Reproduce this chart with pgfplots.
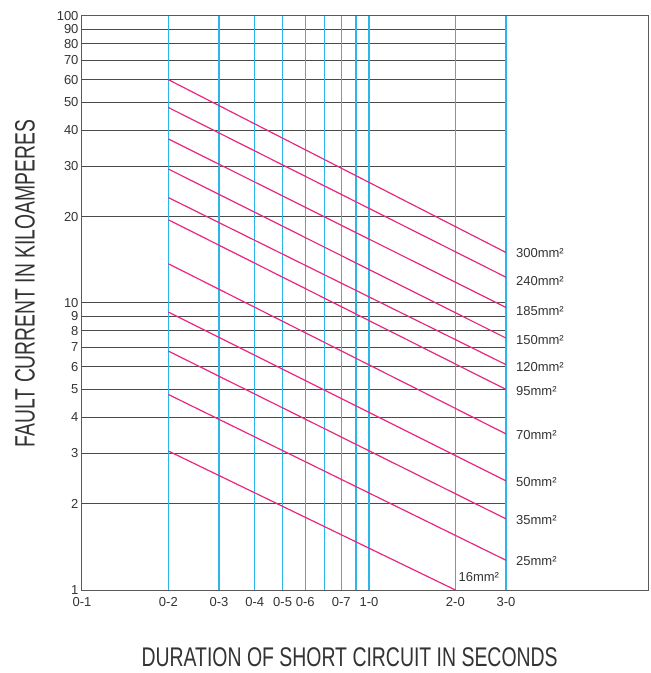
\documentclass[border=0pt]{standalone}
\usepackage{fontspec}
\setmainfont{Liberation Sans}
\newfontfamily\condfont[FakeStretch=0.69]{Liberation Sans}
\newfontfamily\condfontx[FakeStretch=0.72]{Liberation Sans}
\usepackage{pgfplots}
\pgfplotsset{compat=1.18}
\definecolor{gridgray}{HTML}{4A4A4A}
\definecolor{boxgray}{HTML}{5A5A5A}
\definecolor{cblue}{HTML}{2AB6E8}
\definecolor{cpink}{HTML}{E8287F}
\definecolor{txtgray}{HTML}{333333}
\begin{document}
\begin{tikzpicture}[x=1pt,y=1pt]
\useasboundingbox (0,0) rectangle (651,673);
\begin{axis}[
  at={(82pt,83pt)}, anchor=south west,
  scale only axis, width=566.3pt, height=574pt,
  xmode=log, ymode=log,
  xmin=0.1, xmax=9.4, ymin=1, ymax=100,
  axis line style={boxgray, line width=1pt},
  xtick={0.1,0.2,0.3,0.4,0.5,0.6,0.8,1,2,3},
  xticklabels={0-1,0-2,0-3,0-4,0-5,0-6,0-7,1-0,2-0,3-0},
  ytick={1,2,3,4,5,6,7,8,9,10,20,30,40,50,60,70,80,90,100},
  yticklabels={1,2,3,4,5,6,7,8,9,10,20,30,40,50,60,70,80,90,100},
  minor xtick={}, minor ytick={},
  tick style={draw=none},
  ticklabel style={font=\fontsize{13}{13}\selectfont, text=txtgray},
  xticklabel style={yshift=-4pt},
  xlabel={DURATION OF SHORT CIRCUIT IN SECONDS},
  ylabel={FAULT CURRENT IN KILOAMPERES},
  xlabel style={font=\condfontx\fontsize{27}{27}\selectfont, text=txtgray, inner sep=0pt,
    at={(axis description cs:0.4726,-0.117)}, anchor=center},
  ylabel style={font=\condfont\fontsize{28}{28}\selectfont, text=txtgray, inner sep=0pt,
    at={(axis description cs:-0.1007,0.534)}, anchor=center},
  clip=false,
]
% horizontal grid (stops at 3 s)
\pgfplotsinvokeforeach{2,3,4,5,6,7,8,9,10,20,30,40,50,60,70,80,90}{
  \addplot[gridgray, line width=1pt] coordinates {(0.1,#1) (3,#1)};
}
% vertical blue lines
\pgfplotsinvokeforeach{0.2,0.3,0.4,0.5,0.6,0.7,0.8,0.9,1,2,3}{
  \addplot[cblue, line width=1.3pt] coordinates {(#1,1) (#1,100)};
}
% cable curves
\addplot[cpink, line width=1.2pt] coordinates {(0.2,60) (3,15.0)};
\addplot[cpink, line width=1.2pt] coordinates {(0.2,48) (3,12.3)};
\addplot[cpink, line width=1.2pt] coordinates {(0.2,37.3) (3,9.65)};
\addplot[cpink, line width=1.2pt] coordinates {(0.2,29.3) (3,7.55)};
\addplot[cpink, line width=1.2pt] coordinates {(0.2,23.3) (3,6.1)};
\addplot[cpink, line width=1.2pt] coordinates {(0.2,19.5) (3,5.0)};
\addplot[cpink, line width=1.2pt] coordinates {(0.2,13.7) (3,3.5)};
\addplot[cpink, line width=1.2pt] coordinates {(0.2,9.3) (3,2.4)};
\addplot[cpink, line width=1.2pt] coordinates {(0.2,6.8) (3,1.77)};
\addplot[cpink, line width=1.2pt] coordinates {(0.2,4.8) (3,1.27)};
\addplot[cpink, line width=1.2pt] coordinates {(0.2,3.05) (2,1.0)};
% labels
\begin{scope}[every node/.style={anchor=west, inner sep=0pt, xshift=10pt, text=txtgray, font=\fontsize{13}{13}\selectfont}]
\node at (axis cs:3,14.88) {300mm²};
\node at (axis cs:3,11.94) {240mm²};
\node at (axis cs:3,9.34) {185mm²};
\node at (axis cs:3,7.41) {150mm²};
\node at (axis cs:3,6.0) {120mm²};
\node at (axis cs:3,4.94) {95mm²};
\node at (axis cs:3,3.47) {70mm²};
\node at (axis cs:3,2.38) {50mm²};
\node at (axis cs:3,1.76) {35mm²};
\node at (axis cs:3,1.26) {25mm²};
\node[xshift=-7pt] at (axis cs:2,1.107) {16mm²};
\end{scope}
\end{axis}
\end{tikzpicture}
\end{document}
